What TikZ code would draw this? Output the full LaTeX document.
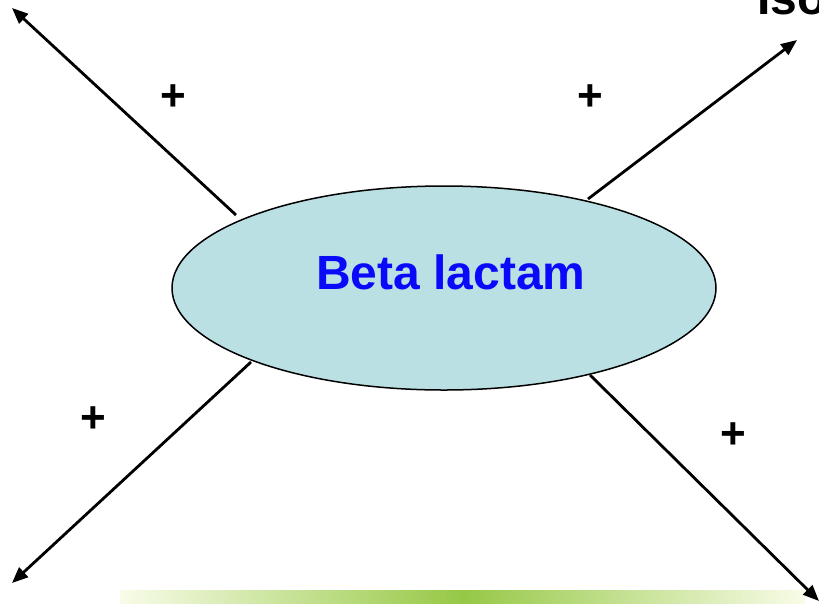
\documentclass[tikz,border=0pt]{standalone}
\usepackage{fontspec}
\setmainfont{Liberation Sans}
\usetikzlibrary{arrows.meta,shapes.geometric}
\definecolor{ellfill}{RGB}{187,224,228}
\definecolor{txtblue}{RGB}{10,10,250}
\definecolor{barg}{RGB}{150,200,70}
\definecolor{barl}{RGB}{248,252,232}
\begin{document}
\begin{tikzpicture}[x=1pt,y=-1pt,
  arr/.style={line width=2.8pt,-{Triangle[length=16pt,width=13pt]}},
  plus/.style={font=\bfseries\fontsize{44}{44}\selectfont},
  core/.style={ellipse,draw=black,line width=1.5pt,fill=ellfill,minimum width=544pt,minimum height=204pt,inner sep=0pt}]
\useasboundingbox (0,0) rectangle (819,603);
\shade[left color=barl,right color=barl,middle color=barg] (120,590) rectangle (805,603);
\node[core] (bl) at (444,288) {};
\node[text=txtblue,font=\bfseries\fontsize{48}{48}\selectfont] (t) at (451,272) {Beta lactam};
\node[anchor=base west,inner sep=0pt,font=\bfseries\fontsize{48}{48}\selectfont] (iso) at (757,14) {Iso};
\coordinate (ul) at (12,8);
\coordinate (ur) at (797,40);
\coordinate (ll) at (12,583);
\coordinate (lr) at (819,601);
\coordinate (bul) at (236,215);
\coordinate (bur) at (588,199);
\coordinate (bll) at (251,362);
\coordinate (blr) at (590,375);
\draw[arr] (bul) -- (ul);
\draw[arr] (bur) -- (ur);
\draw[arr] (bll) -- (ll);
\draw[arr] (blr) -- (lr);
\node[plus] (p1) at (173,98) {+};
\node[plus] (p2) at (590,98) {+};
\node[plus] (p3) at (93,420) {+};
\node[plus] (p4) at (733,436) {+};
\end{tikzpicture}
\end{document}
